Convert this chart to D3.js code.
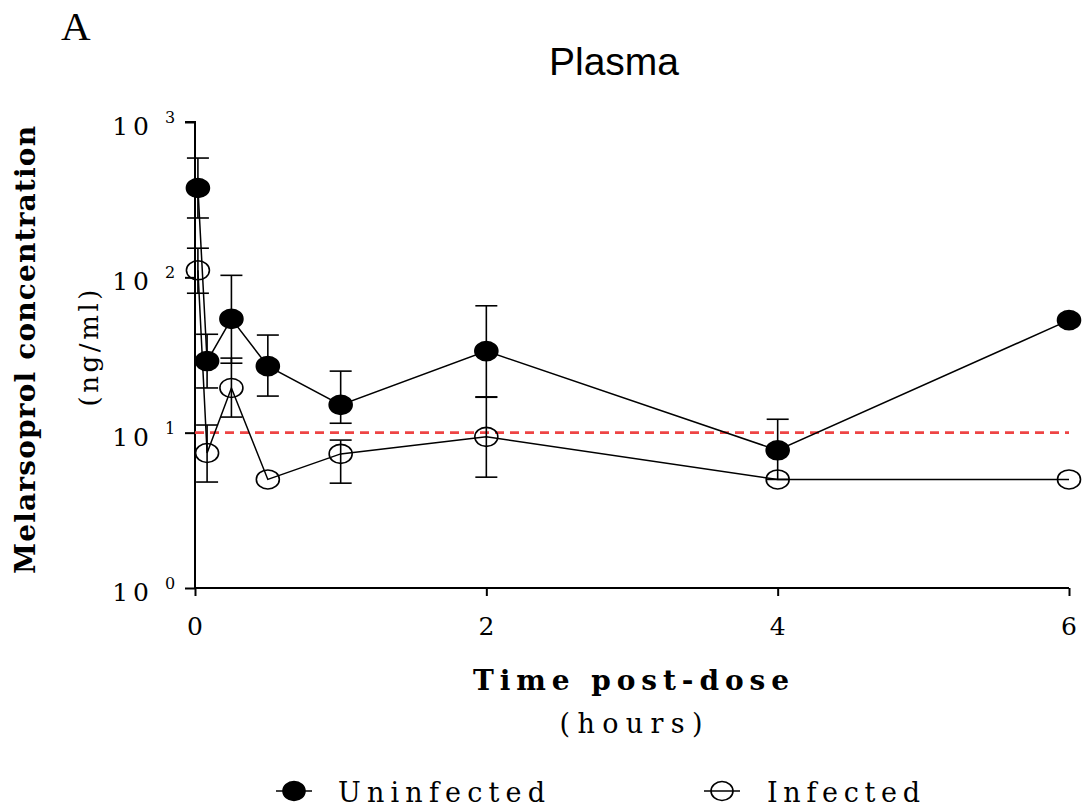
<!DOCTYPE html>
<html>
<head>
<meta charset="utf-8">
<script src="https://cdn.jsdelivr.net/npm/d3@7"></script>
<style>
  html, body { margin: 0; padding: 0; background: #fff; }
  svg { display: block; }
</style>
</head>
<body>
<svg id="chart" width="1085" height="807"></svg>
<script>
// ---- Data ----
const times = [0.02, 0.083, 0.25, 0.5, 1, 2, 4, 6];
const uninfectedMean  = [376, 28.9, 54, 26.8, 15.1, 33.5, 7.7, 53];
const uninfectedUpper = [586, 43, 103, 42.5, 24.9, 65.6, 12.2, null];
const uninfectedLower = [241, 19.4, 28, 17.2, 11.5, 16.9, 5.0, null];
const infectedMean  = [111, 7.4, 19.4, 5.0, 7.3, 9.4, 5.0, 5.0];
const infectedUpper = [154, 11.2, 30.2, null, 8.96, 17, null, null];
const infectedLower = [79, 4.81, 12.6, null, 4.73, 5.17, null, null];
const xTicks = [0, 2, 4, 6];
const yTicks = [1, 10, 100, 1000];
const limitLine = 10;
const seriesNames = ["Uninfected", "Infected"];

// ---- Layout ----
const svg = d3.select("#chart");
const x = d3.scaleLinear().domain([0, 6]).range([195, 1069]);
const y = d3.scaleLog().domain([1, 1000]).range([588, 122]);

const serif = '"DejaVu Serif", "Liberation Serif", serif';

// Panel letter and title
svg.append("text").attr("x", 61).attr("y", 40)
  .attr("font-family", '"Liberation Serif", serif').attr("font-size", 41).text("A");
svg.append("text").attr("x", 614).attr("y", 75).attr("text-anchor", "middle")
  .attr("font-family", '"Liberation Sans", Arial, sans-serif').attr("font-size", 38)
  .attr("textLength", 130).attr("lengthAdjust", "spacingAndGlyphs").text("Plasma");

// Axes
const yAxis = d3.axisLeft(y).tickValues(yTicks).tickSize(10).tickFormat("");
const gy = svg.append("g").attr("transform", `translate(${x(0)},0)`).call(yAxis);
gy.select(".domain").attr("d", `M-10,${y(1000)}H0V${y(1)}`).attr("stroke-width", 2);
gy.selectAll(".tick line").attr("stroke-width", 2);

const xAxis = d3.axisBottom(x).tickValues(xTicks).tickSize(8).tickFormat("");
const gx = svg.append("g").attr("transform", `translate(0,${y(1)})`).call(xAxis);
gx.select(".domain").attr("d", `M${x(0)},0H${x(6)}`).attr("stroke-width", 2);
gx.selectAll(".tick line").attr("stroke-width", 2);

// Y tick labels (10^n)
yTicks.forEach(v => {
  const e = Math.round(Math.log10(v));
  svg.append("text").attr("x", 154).attr("y", y(v) + 13).attr("text-anchor", "end")
    .attr("font-family", serif).attr("font-size", 25).attr("letter-spacing", 5)
    .text("10");
  svg.append("text").attr("x", 165).attr("y", y(v) + 1)
    .attr("font-family", serif).attr("font-size", 16).text(String(e));
});
// X tick labels
xTicks.forEach(v => {
  svg.append("text").attr("x", x(v)).attr("y", 635).attr("text-anchor", "middle")
    .attr("font-family", serif).attr("font-size", 25).text(String(v));
});

// Axis titles
svg.append("text").attr("x", 631).attr("y", 690).attr("text-anchor", "middle")
  .attr("font-family", serif).attr("font-size", 28).attr("font-weight", "bold")
  .attr("textLength", 316).attr("lengthAdjust", "spacing").text("Time post-dose");
svg.append("text").attr("x", 631).attr("y", 733).attr("text-anchor", "middle")
  .attr("font-family", serif).attr("font-size", 27)
  .attr("textLength", 143).attr("lengthAdjust", "spacing").text("(hours)");

svg.append("text").attr("transform", "translate(35,350) rotate(-90)").attr("text-anchor", "middle")
  .attr("font-family", serif).attr("font-size", 28).attr("font-weight", "bold")
  .attr("textLength", 448).attr("lengthAdjust", "spacing").text("Melarsoprol concentration");
svg.append("text").attr("transform", "translate(98,348) rotate(-90)").attr("text-anchor", "middle")
  .attr("font-family", serif).attr("font-size", 26)
  .attr("textLength", 117).attr("lengthAdjust", "spacing").text("(ng/ml)");

// Limit line
svg.append("line").attr("x1", x(0)).attr("x2", x(6)).attr("y1", y(limitLine)).attr("y2", y(limitLine))
  .attr("stroke", "#ee4444").attr("stroke-width", 2.6).attr("stroke-dasharray", "9,6");

// Series
const series = [
  { mean: uninfectedMean, up: uninfectedUpper, lo: uninfectedLower, fill: "#000" },
  { mean: infectedMean, up: infectedUpper, lo: infectedLower, fill: "none" }
];
const line = d3.line().x(d => x(d.t)).y(d => y(d.v));
series.forEach(s => {
  const pts = times.map((t, i) => ({ t, v: s.mean[i], up: s.up[i], lo: s.lo[i] }));
  svg.append("path").datum(pts).attr("d", line).attr("fill", "none")
    .attr("stroke", "#000").attr("stroke-width", 1.5);
  pts.filter(p => p.up != null).forEach(p => {
    const g = svg.append("g").attr("stroke", "#000").attr("stroke-width", 1.6);
    g.append("line").attr("x1", x(p.t)).attr("x2", x(p.t)).attr("y1", y(p.up)).attr("y2", y(p.lo));
    g.append("line").attr("x1", x(p.t) - 11).attr("x2", x(p.t) + 11).attr("y1", y(p.up)).attr("y2", y(p.up));
    g.append("line").attr("x1", x(p.t) - 11).attr("x2", x(p.t) + 11).attr("y1", y(p.lo)).attr("y2", y(p.lo));
  });
});
series.forEach(s => {
  times.forEach((t, i) => {
    svg.append("ellipse").attr("cx", x(t)).attr("cy", y(s.mean[i])).attr("rx", 11.5).attr("ry", 9.5)
      .attr("fill", s.fill).attr("stroke", "#000").attr("stroke-width", 1.6);
  });
});

// Legend
const legend = [
  { name: seriesNames[0], cx: 294, tx: 338, tl: 207, fill: "#000" },
  { name: seriesNames[1], cx: 722, tx: 767, tl: 153, fill: "none" }
];
legend.forEach(l => {
  svg.append("line").attr("x1", l.cx - 18).attr("x2", l.cx + 18).attr("y1", 791).attr("y2", 791)
    .attr("stroke", "#000").attr("stroke-width", 1.5);
  svg.append("ellipse").attr("cx", l.cx).attr("cy", 791).attr("rx", 11).attr("ry", 9.5)
    .attr("fill", l.fill).attr("stroke", "#000").attr("stroke-width", 1.6);
  svg.append("text").attr("x", l.tx).attr("y", 802)
    .attr("font-family", serif).attr("font-size", 27)
    .attr("textLength", l.tl).attr("lengthAdjust", "spacing").text(l.name);
});
</script>
</body>
</html>
